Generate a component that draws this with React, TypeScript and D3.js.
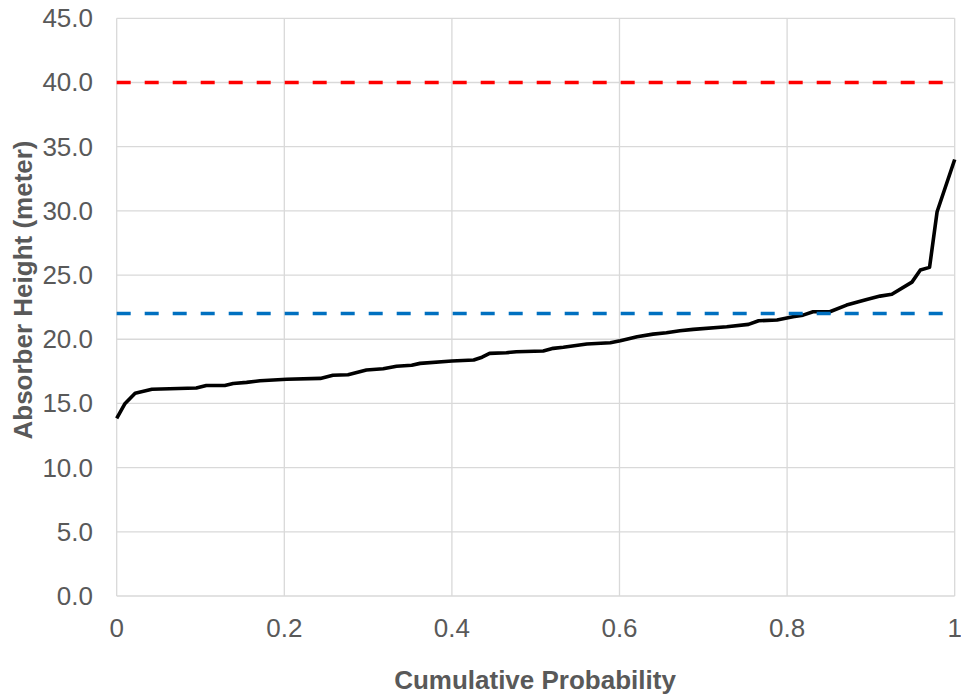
import React from "react";
import * as d3 from "d3";

const probability = [
  0, 0.01, 0.022, 0.042, 0.095, 0.107, 0.129, 0.139, 0.155, 0.171, 0.203, 0.243,
  0.258, 0.276, 0.298, 0.318, 0.334, 0.352, 0.362, 0.4, 0.426, 0.436, 0.445,
  0.465, 0.477, 0.509, 0.521, 0.533, 0.561, 0.589, 0.601, 0.621, 0.64, 0.656,
  0.672, 0.688, 0.728, 0.754, 0.766, 0.788, 0.807, 0.819, 0.831, 0.851, 0.871,
  0.895, 0.911, 0.925, 0.949, 0.959, 0.97, 0.979, 1.0,
];
const absorberHeight = [
  13.84, 15.0, 15.8, 16.1, 16.2, 16.4, 16.4, 16.55, 16.64, 16.77, 16.88, 16.95,
  17.19, 17.24, 17.6, 17.7, 17.9, 17.97, 18.12, 18.3, 18.38, 18.6, 18.9, 18.95,
  19.03, 19.08, 19.29, 19.37, 19.63, 19.73, 19.88, 20.2, 20.4, 20.5, 20.66,
  20.77, 20.97, 21.16, 21.44, 21.5, 21.75, 21.88, 22.14, 22.14, 22.66, 23.1,
  23.36, 23.5, 24.45, 25.39, 25.6, 29.93, 34.0,
];
const upperLimit = 40;
const designHeight = 22;
const xTicks = [0, 0.2, 0.4, 0.6, 0.8, 1];
const yTicks = [0, 5, 10, 15, 20, 25, 30, 35, 40, 45];
const xTitle = "Cumulative Probability";
const yTitle = "Absorber Height (meter)";

const W = 961;
const H = 694;
const left = 116.7;
const right = 954.7;
const top = 18.3;
const bottom = 596;

export default function App() {
  const x = d3.scaleLinear().domain([0, 1]).range([left, right]);
  const y = d3.scaleLinear().domain([0, 45]).range([bottom, top]);
  const pts: [number, number][] = probability.map((p, i) => [p, absorberHeight[i]]);
  const line = d3
    .line<[number, number]>()
    .x((d) => x(d[0]))
    .y((d) => y(d[1]));
  const font = "'Liberation Sans', Arial, sans-serif";
  const grid = "#d9d9d9";
  const textColor = "#595959";
  return (
    <svg
      width={W}
      height={H}
      style={{ position: "absolute", left: 0, top: 0, background: "#fff" }}
      fontFamily={font}
    >
      <rect x={0} y={0} width={W} height={H} fill="#fff" />
      {yTicks.map((t) => (
        <line key={"gy" + t} x1={left} x2={right} y1={y(t)} y2={y(t)} stroke={grid} strokeWidth={1.3} />
      ))}
      {xTicks.map((t) => (
        <line key={"gx" + t} x1={x(t)} x2={x(t)} y1={top} y2={bottom} stroke={grid} strokeWidth={1.3} />
      ))}
      {yTicks.map((t) => (
        <text
          key={"ty" + t}
          x={93}
          y={y(t)}
          textAnchor="end"
          dominantBaseline="central"
          fontSize={26}
          fill={textColor}
        >
          {t.toFixed(1)}
        </text>
      ))}
      {xTicks.map((t) => (
        <text key={"tx" + t} x={x(t)} y={637} textAnchor="middle" fontSize={26} fill={textColor}>
          {String(t)}
        </text>
      ))}
      <path d={line(pts) || ""} fill="none" stroke="#000" strokeWidth={3.6} strokeLinejoin="round" />
      <line
        x1={x(0)}
        x2={x(1)}
        y1={y(upperLimit)}
        y2={y(upperLimit)}
        stroke="#ff0000"
        strokeWidth={3.6}
        strokeDasharray="14,14"
      />
      <line
        x1={x(0)}
        x2={x(1)}
        y1={y(designHeight)}
        y2={y(designHeight)}
        stroke="#0070c0"
        strokeWidth={3.6}
        strokeDasharray="14,14"
      />
      <text x={535} y={689} textAnchor="middle" fontSize={26} fontWeight="bold" fill={textColor}>
        {xTitle}
      </text>
      <text
        transform={`translate(32,290) rotate(-90)`}
        textAnchor="middle"
        fontSize={26}
        fontWeight="bold"
        fill={textColor}
      >
        {yTitle}
      </text>
    </svg>
  );
}
